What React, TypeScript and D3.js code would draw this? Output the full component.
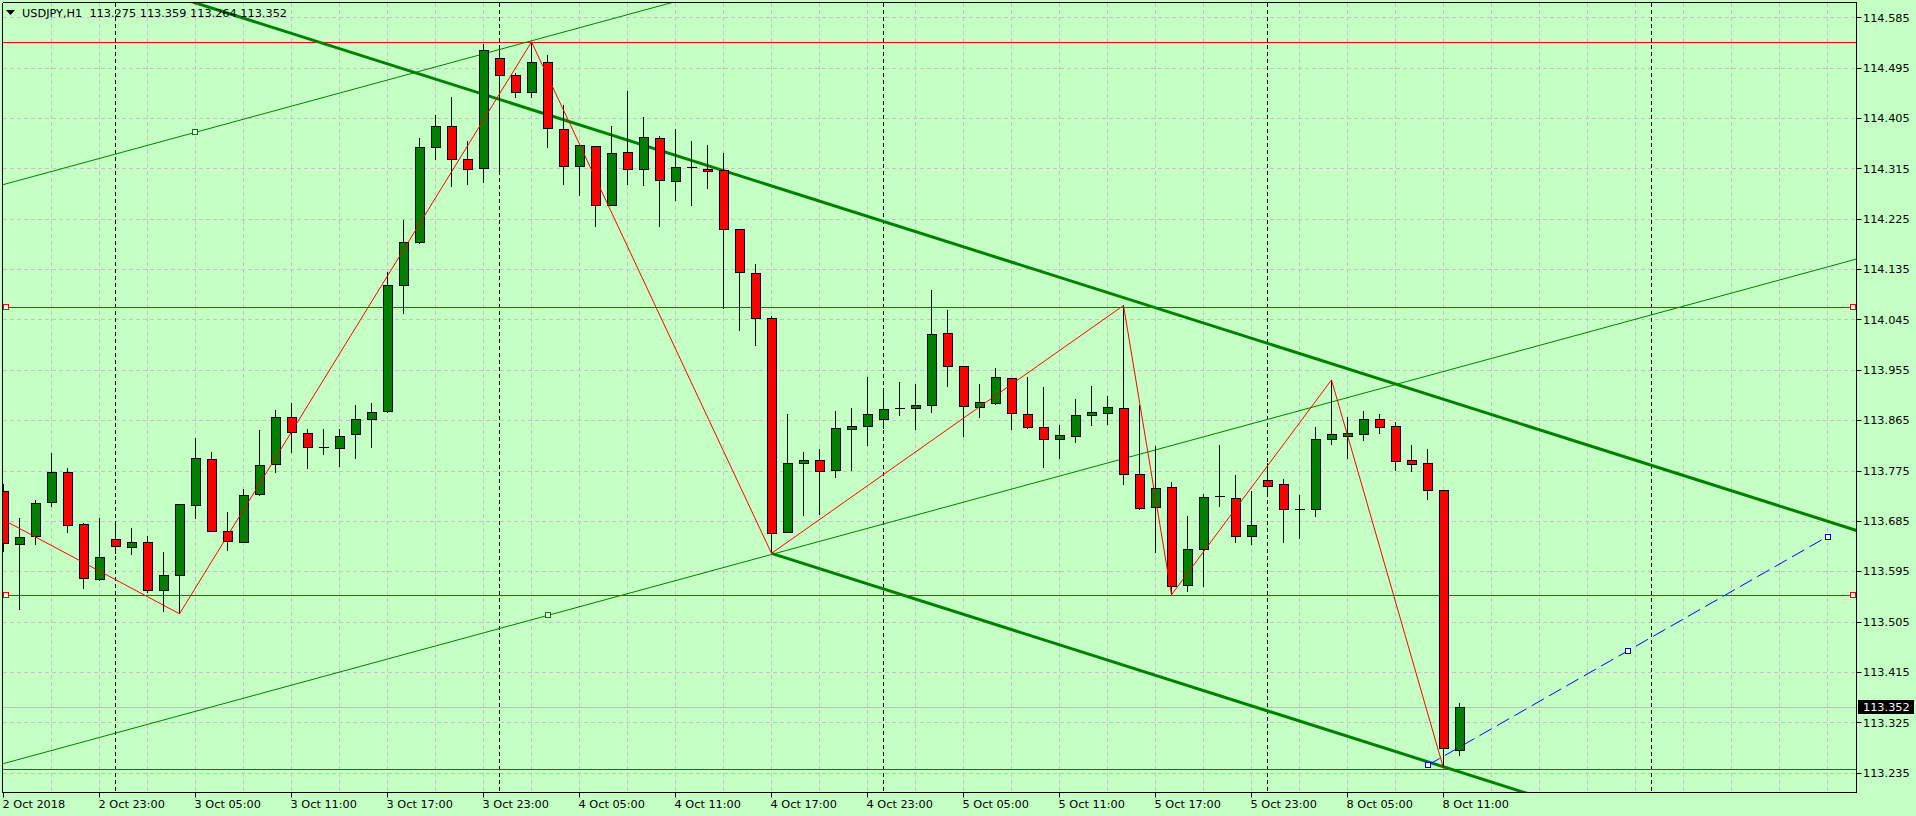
import React from "react";
import * as d3 from "d3";

// ---- data ----
const symbolTitle = "USDJPY,H1  113.275 113.359 113.264 113.352";
const opens = [113.738,113.643,113.657,113.718,113.772,113.679,113.580,113.652,113.638,113.647,113.561,113.587,113.712,113.795,113.666,113.647,113.732,113.786,113.870,113.841,113.816,113.814,113.839,113.866,113.880,114.105,114.182,114.353,114.390,114.331,114.314,114.512,114.481,114.451,114.505,114.385,114.319,114.354,114.249,114.344,114.313,114.369,114.291,114.317,114.313,114.311,114.205,114.127,114.047,113.665,113.788,113.793,113.775,113.848,113.854,113.866,113.885,113.886,113.891,114.020,113.961,113.888,113.894,113.940,113.875,113.852,113.831,113.836,113.874,113.877,113.886,113.768,113.709,113.745,113.570,113.634,113.728,113.725,113.657,113.757,113.750,113.706,113.706,113.831,113.836,113.840,113.867,113.853,113.793,113.788,113.740,113.275];
const highs = [113.751,113.690,113.723,113.806,113.779,113.682,113.691,113.679,113.672,113.658,113.629,113.716,113.833,113.808,113.701,113.742,113.847,113.883,113.895,113.850,113.849,113.850,113.892,113.895,114.130,114.223,114.369,114.410,114.442,114.364,114.538,114.527,114.486,114.541,114.518,114.428,114.357,114.355,114.391,114.453,114.406,114.372,114.385,114.364,114.357,114.342,114.206,114.144,114.051,113.876,113.809,113.813,113.881,113.887,113.942,113.915,113.933,113.929,114.098,114.062,113.962,113.930,113.958,113.941,113.943,113.924,113.856,113.903,113.926,113.908,114.070,113.892,113.819,113.754,113.694,113.733,113.821,113.767,113.738,113.788,113.759,113.731,113.853,113.937,113.871,113.881,113.876,113.861,113.821,113.813,113.741,113.359];
const lows = [113.630,113.525,113.642,113.710,113.664,113.563,113.578,113.625,113.624,113.557,113.522,113.519,113.688,113.665,113.632,113.646,113.730,113.771,113.807,113.778,113.802,113.781,113.796,113.815,113.877,114.054,114.180,114.330,114.282,114.285,114.289,114.306,114.440,114.440,114.352,114.285,114.266,114.211,114.248,114.285,114.284,114.211,114.257,114.247,114.278,114.064,114.025,113.998,113.627,113.664,113.694,113.696,113.762,113.774,113.818,113.849,113.872,113.848,113.878,113.925,113.835,113.869,113.893,113.848,113.850,113.780,113.796,113.825,113.855,113.857,113.750,113.704,113.627,113.553,113.558,113.566,113.710,113.645,113.642,113.735,113.646,113.652,113.692,113.821,113.796,113.827,113.840,113.774,113.773,113.722,113.243,113.264];
const closes = [113.644,113.656,113.716,113.772,113.677,113.582,113.620,113.639,113.647,113.560,113.588,113.715,113.797,113.666,113.648,113.731,113.784,113.870,113.843,113.816,113.817,113.836,113.866,113.879,114.106,114.183,114.353,114.390,114.331,114.313,114.526,114.481,114.451,114.505,114.387,114.319,114.356,114.249,114.342,114.313,114.370,114.294,114.317,114.317,114.309,114.206,114.129,114.047,113.663,113.788,113.793,113.774,113.850,113.853,113.875,113.884,113.885,113.892,114.018,113.961,113.890,113.897,113.942,113.877,113.852,113.831,113.838,113.874,113.879,113.888,113.768,113.707,113.743,113.568,113.634,113.727,113.729,113.657,113.677,113.746,113.706,113.706,113.831,113.840,113.841,113.867,113.852,113.791,113.786,113.739,113.278,113.352];

const priceTicks = [114.585,114.495,114.405,114.315,114.225,114.135,114.045,113.955,113.865,113.775,113.685,113.595,113.505,113.415,113.325,113.235];
const timeTickBars = [0,6,12,18,24,30,36,42,48,54,60,66,72,78,84,90];
const timeTickLabels = ["2 Oct 2018","2 Oct 23:00","3 Oct 05:00","3 Oct 11:00","3 Oct 17:00","3 Oct 23:00","4 Oct 05:00","4 Oct 11:00","4 Oct 17:00","4 Oct 23:00","5 Oct 05:00","5 Oct 11:00","5 Oct 17:00","5 Oct 23:00","8 Oct 05:00","8 Oct 11:00"];
const daySeparatorBars = [7,31,55,79,103];
const bidPrice = 113.352;

const hLevels = [114.540,114.068,113.552,113.241];
const hLevelMarked = [false,true,true,false];

const zigzagBars = [-1,11,33,48,70,73,83,90];
const zigzagPrices = [113.702,113.519,114.541,113.627,114.070,113.553,113.937,113.243];

// descending channel (thick): base line anchors + lower parallel start
const descBars = [33,70];
const descPrices = [114.420,114.084];
const descLowerStartBar = 48;
const descLowerStartPrice = 113.627;

// ascending channel (thin)
const ascBars = [34,48];
const ascPrices = [113.516,113.625];
const ascUpperBar = 12;
const ascUpperPrice = 114.3795;

// blue dashed projection
const projBars = [89,114];
const projPrices = [113.248,113.657];

// ---- layout ----
const W = 1916, H = 816;
const L = 2.5, T = 2.5, R = 1856.5, B = 792.5;
const BG = "#c4ffc4";
const FONT = "'DejaVu Sans', Verdana, sans-serif";

export default function App() {
  const x = d3.scaleLinear().domain([0, 115]).range([3.5, 3.5 + 16 * 115]);
  const y = d3.scaleLinear().domain([113.235, 114.585]).range([772.7, 17.3]);

  const descSlope = (descPrices[1] - descPrices[0]) / (descBars[1] - descBars[0]);
  const descAt = (k: number) => descPrices[0] + descSlope * (k - descBars[0]);
  const descLowerAt = (k: number) => descLowerStartPrice + descSlope * (k - descLowerStartBar);

  const ascSlope = (ascPrices[1] - ascPrices[0]) / (ascBars[1] - ascBars[0]);
  const ascAt = (k: number) => ascPrices[0] + ascSlope * (k - ascBars[0]);
  const ascUpperAt = (k: number) => ascUpperPrice + ascSlope * (k - ascUpperBar);

  const line = d3.line<[number, number]>().x((d) => x(d[0])).y((d) => y(d[1]));
  const zig = line(zigzagBars.map((b, i) => [b, zigzagPrices[i]] as [number, number])) || "";

  const gridBars: number[] = [];
  for (let k = 3; x(k) < R; k += 3) gridBars.push(k);

  const projMid: [number, number] = [(projBars[0] + projBars[1]) / 2, (projPrices[0] + projPrices[1]) / 2];

  const marker = (cx: number, cy: number, color: string, key: string) => (
    <rect key={key} x={Math.round(cx) - 2.5} y={Math.round(cy) - 2.5} width={5} height={5} fill="#ffffff" stroke={color} strokeWidth={1} />
  );

  return (
    <svg width={W} height={H} style={{ position: "absolute", left: 0, top: 0, display: "block" }} fontFamily={FONT}>
      <defs>
        <clipPath id="plot">
          <rect x={L} y={T} width={R - L} height={B - T} />
        </clipPath>
      </defs>
      <rect x={0} y={0} width={W} height={H} fill={BG} />

      <g clipPath="url(#plot)">
        {/* grid */}
        <g stroke="#c9bfc9" strokeWidth={1} strokeDasharray="4,3" shapeRendering="crispEdges">
          {priceTicks.map((p) => (
            <line key={"h" + p} x1={L} x2={R} y1={Math.round(y(p)) + 0.5} y2={Math.round(y(p)) + 0.5} />
          ))}
          {gridBars.map((k) => (
            <line key={"v" + k} x1={x(k)} x2={x(k)} y1={T} y2={B} />
          ))}
        </g>
        {/* day separators */}
        <g stroke="#000" strokeWidth={1} strokeDasharray="4,3" shapeRendering="crispEdges">
          {daySeparatorBars.map((k) => (
            <line key={"s" + k} x1={x(k)} x2={x(k)} y1={T} y2={B} />
          ))}
        </g>
        {/* bid line */}
        <line x1={L} x2={R} y1={Math.round(y(bidPrice)) + 0.5} y2={Math.round(y(bidPrice)) + 0.5} stroke="#c0c0c0" strokeWidth={1} />

        {/* horizontal red levels */}
        {hLevels.map((p, i) => (
          <line key={"lv" + i} x1={L} x2={R} y1={Math.round(y(p)) + 0.5} y2={Math.round(y(p)) + 0.5} stroke="#ff0000" strokeWidth={1} />
        ))}

        {/* ascending thin channel */}
        <line x1={x(-1)} y1={y(ascAt(-1))} x2={x(117)} y2={y(ascAt(117))} stroke="#008000" strokeWidth={1} />
        <line x1={x(-1)} y1={y(ascUpperAt(-1))} x2={x(117)} y2={y(ascUpperAt(117))} stroke="#008000" strokeWidth={1} />

        {/* descending thick channel */}
        <line x1={x(-1)} y1={y(descAt(-1))} x2={x(117)} y2={y(descAt(117))} stroke="#008000" strokeWidth={3} />
        <line x1={x(descLowerStartBar)} y1={y(descLowerAt(descLowerStartBar))} x2={x(117)} y2={y(descLowerAt(117))} stroke="#008000" strokeWidth={3} />

        {/* candles */}
        <g shapeRendering="crispEdges">
          {opens.map((o, k) => {
            const c = closes[k];
            const cx = x(k);
            const top = y(Math.max(o, c));
            const bot = y(Math.min(o, c));
            const bull = c >= o;
            return (
              <g key={"c" + k}>
                <line x1={cx} x2={cx} y1={y(highs[k])} y2={y(lows[k])} stroke="#000" strokeWidth={1} />
                <rect x={cx - 4.5} y={top} width={9} height={Math.max(0.01, bot - top)} fill={bull ? "#008000" : "#ff0000"} stroke="#000" strokeWidth={1} />
              </g>
            );
          })}
        </g>

        {/* zigzag */}
        <path d={zig} fill="none" stroke="#ff0000" strokeWidth={1} />

        {/* blue dashed projection */}
        <line x1={x(projBars[0])} y1={y(projPrices[0])} x2={x(projBars[1])} y2={y(projPrices[1])} stroke="#0000ff" strokeWidth={1} strokeDasharray="14,6" />

        {/* markers */}
        {hLevels.map((p, i) =>
          hLevelMarked[i] ? [marker(L + 3, y(p), "#ff0000", "ml" + i), marker(R - 3.5, y(p), "#ff0000", "mr" + i)] : null
        )}
        {marker(x(ascBars[0]), y(ascPrices[0]), "#008000", "ma1")}
        {marker(x(ascUpperBar), y(ascUpperPrice), "#008000", "ma2")}
        {marker(x(projBars[0]), y(projPrices[0]), "#0000ff", "mp1")}
        {marker(x(projMid[0]), y(projMid[1]), "#0000ff", "mp2")}
        {marker(x(projBars[1]), y(projPrices[1]), "#0000ff", "mp3")}
      </g>

      {/* frame */}
      <g stroke="#000" strokeWidth={1} shapeRendering="crispEdges">
        <line x1={L} x2={R} y1={T} y2={T} />
        <line x1={L} x2={L} y1={T} y2={B} />
        <line x1={R} x2={R} y1={T} y2={B} />
        <line x1={L} x2={R} y1={B} y2={B} />
      </g>

      {/* price axis */}
      <g fontSize={11.3} fill="#000">
        {priceTicks.map((p) => (
          <g key={"pt" + p}>
            <line x1={R} x2={R + 5} y1={Math.round(y(p)) + 0.5} y2={Math.round(y(p)) + 0.5} stroke="#000" strokeWidth={1} />
            <text x={1863} y={y(p) + 4.2}>{p.toFixed(3)}</text>
          </g>
        ))}
        <rect x={1858} y={Math.round(y(bidPrice)) - 7} width={56} height={14} fill="#000" />
        <text x={1863} y={y(bidPrice) + 4.2} fill="#fff">{bidPrice.toFixed(3)}</text>
      </g>

      {/* time axis */}
      <g fontSize={11.3} fill="#000">
        {timeTickBars.map((k, i) => (
          <g key={"tt" + k}>
            <line x1={x(k)} x2={x(k)} y1={B} y2={B + 5} stroke="#000" strokeWidth={1} />
            <text x={x(k) - 1} y={807.5}>{timeTickLabels[i]}</text>
          </g>
        ))}
      </g>

      {/* title */}
      <path d="M6,10 L15,10 L10.5,15 Z" fill="#000" />
      <text x={22} y={16.5} fontSize={11.3} fill="#000">{symbolTitle.replace("  ", "\u00a0\u00a0")}</text>
    </svg>
  );
}
